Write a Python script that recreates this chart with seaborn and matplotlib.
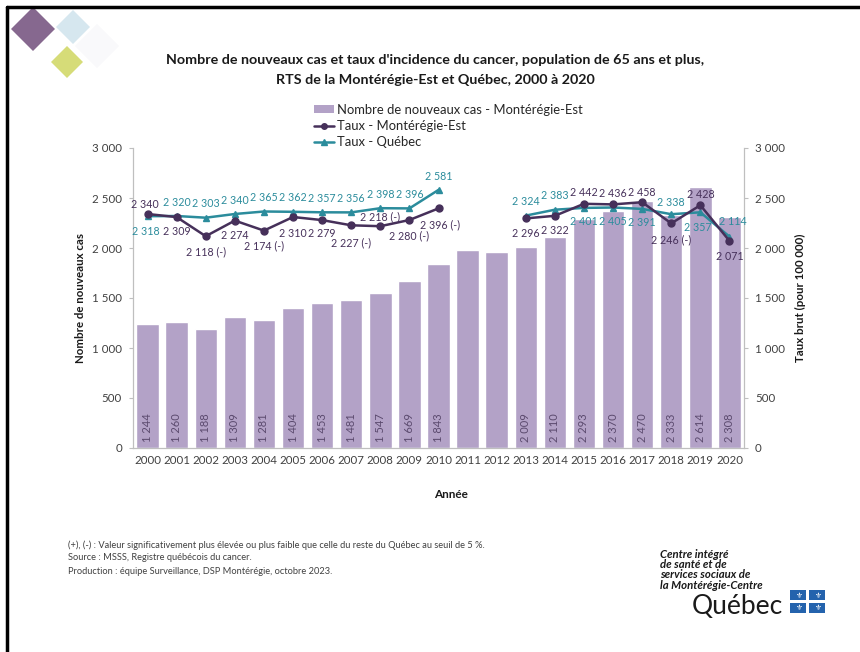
import numpy as np
import pandas as pd
import matplotlib.pyplot as plt
import seaborn as sns
from matplotlib.patches import Patch, Polygon, Rectangle
from matplotlib.lines import Line2D

# données
years = [str(y) for y in range(2000, 2021)]
cases = [1244, 1260, 1188, 1309, 1281, 1404, 1453, 1481, 1547, 1669, 1843,
         1985, 1960, 2009, 2110, 2293, 2370, 2470, 2333, 2614, 2308]
case_labels = ['1 244', '1 260', '1 188', '1 309', '1 281', '1 404', '1 453', '1 481',
               '1 547', '1 669', '1 843', '', '', '2 009', '2 110', '2 293', '2 370',
               '2 470', '2 333', '2 614', '2 308']
rate_me = [2340, 2309, 2118, 2274, 2174, 2310, 2279, 2227, 2218, 2280, 2396,
           np.nan, np.nan, 2296, 2322, 2442, 2436, 2458, 2246, 2428, 2071]
sig_me = ['', '', ' (-)', '', ' (-)', '', '', ' (-)', ' (-)', ' (-)', ' (-)',
          '', '', '', '', '', '', '', ' (-)', '', '']
rate_qc = [2318, 2320, 2303, 2340, 2365, 2362, 2357, 2356, 2398, 2396, 2581,
           np.nan, np.nan, 2324, 2383, 2401, 2405, 2391, 2338, 2357, 2114]

# décalage des étiquettes (pixels)
dy_me = [10, -14, -16, -15, -15, -16, -13, -17, 9, -16, -16, 0, 0,
         -15, -15, 11, 11, 10, -16, 11, -16]
dx_me = [-3, 0, 0, 0, 0, 0, 0, 0, 0, 0, 2, 0, 0, 0, 0, 0, 0, 0, 0, 0, 0]
dy_qc = [-15, 14, 14, 14, 14, 14, 14, 14, 14, 14, 13, 0, 0,
         14, 14, -14, -14, -14, 12, -15, 15]
dx_qc = [-2, 0, 0, 0, 0, 0, 0, 0, 0, 0, 0, 0, 0, 0, 0, 0, 0, 0, 0, -3, 3]

BAR = '#b3a2c7'
DARK = '#46305a'
TEAL = '#2b8c9c'
GREY = '#404040'
SPINE = '#bfbfbf'

W, H = 860, 652

sns.set_style('white')
plt.rcParams['font.family'] = ['Lato', 'DejaVu Sans']

fig = plt.figure(figsize=(W / 100, H / 100), dpi=100)
ax = fig.add_axes([133 / W, 1 - 448 / H, (744 - 133) / W, 300 / H])

df = pd.DataFrame({'annee': years, 'cas': cases})
sns.barplot(data=df, x='annee', y='cas', color=BAR, saturation=1, width=0.77, ax=ax)
ax.set_ylim(0, 3000)
ax.set_xlim(-0.5, len(years) - 0.5)
ax.set_xlabel('')
ax.set_ylabel('')

x = np.arange(len(years))
for i, lab in enumerate(case_labels):
    if lab:
        ax.annotate(lab, (x[i], 0), xytext=(0, 6), textcoords='offset pixels',
                    rotation=90, ha='center', va='bottom', fontsize=8, color='#5b4a6e')

ax2 = ax.twinx()
ax2.set_ylim(0, 3000)
ax2.plot(x, rate_qc, color=TEAL, lw=1.8, marker='^', ms=5, zorder=3)
ax2.plot(x, rate_me, color=DARK, lw=1.8, marker='o', ms=5, zorder=4)

for i in range(len(years)):
    if not np.isnan(rate_me[i]):
        txt = f"{int(rate_me[i]):,}".replace(',', ' ') + sig_me[i]
        ax2.annotate(txt, (x[i], rate_me[i]), xytext=(dx_me[i], dy_me[i]),
                     textcoords='offset pixels', ha='center', va='center',
                     fontsize=7.7, color=DARK)
    if not np.isnan(rate_qc[i]):
        txt = f"{int(rate_qc[i]):,}".replace(',', ' ')
        ax2.annotate(txt, (x[i], rate_qc[i]), xytext=(dx_qc[i], dy_qc[i]),
                     textcoords='offset pixels', ha='center', va='center',
                     fontsize=7.7, color=TEAL)

yt = np.arange(0, 3001, 500)
ylab = [f"{v:,}".replace(',', ' ') for v in yt]
for a in (ax, ax2):
    a.set_yticks(yt)
    a.set_yticklabels(ylab)
    a.spines['top'].set_visible(False)
    for s in ('left', 'right', 'bottom'):
        a.spines[s].set_color(SPINE)
        a.spines[s].set_linewidth(0.8)
    a.tick_params(axis='y', length=3, color=SPINE, labelsize=8.3, labelcolor=GREY, pad=5)
ax.tick_params(axis='x', which='major', length=0, labelsize=8.3, labelcolor=GREY, pad=5)
ax.set_xticks(np.arange(-0.5, len(years), 1), minor=True)
ax.tick_params(axis='x', which='minor', length=4, color=SPINE)

# textes
fig.text(435 / W, 1 - 60 / H,
         "Nombre de nouveaux cas et taux d'incidence du cancer, population de 65 ans et plus,",
         ha='center', va='center', fontsize=10.3, fontweight='bold', color='#1a1a1a')
fig.text(435 / W, 1 - 80 / H, "RTS de la Montérégie-Est et Québec, 2000 à 2020",
         ha='center', va='center', fontsize=10.3, fontweight='bold', color='#1a1a1a')
fig.text(80 / W, 1 - 298 / H, 'Nombre de nouveaux cas', rotation=90,
         ha='center', va='center', fontsize=8.3, fontweight='bold', color='#1a1a1a')
fig.text(800 / W, 1 - 298 / H, 'Taux brut (pour 100 000)', rotation=90,
         ha='center', va='center', fontsize=8.3, fontweight='bold', color='#1a1a1a')
fig.text(451 / W, 1 - 494 / H, 'Année', ha='center', va='center',
         fontsize=8.5, fontweight='bold', color='#1a1a1a')

handles = [Patch(facecolor=BAR, edgecolor='none'),
           Line2D([], [], color=DARK, lw=1.8, marker='o', ms=4),
           Line2D([], [], color=TEAL, lw=1.8, marker='^', ms=4)]
labels = ['Nombre de nouveaux cas - Montérégie-Est', 'Taux - Montérégie-Est', 'Taux - Québec']
fig.legend(handles, labels, loc='upper left', bbox_to_anchor=(314 / W, 1 - 104 / H),
           frameon=False, fontsize=9.4, handlelength=1.5, handleheight=0.55,
           handletextpad=0.25, labelspacing=0.3, borderaxespad=0, borderpad=0,
           labelcolor='#262626')

notes = ["(+), (-) : Valeur significativement plus élevée ou plus faible que celle du reste du Québec au seuil de 5 %.",
         "Source : MSSS, Registre québécois du cancer.",
         "Production : équipe Surveillance, DSP Montérégie, octobre 2023."]
for k, n in enumerate(notes):
    fig.text(68 / W, 1 - (545 + 13 * k) / H, n, ha='left', va='center',
             fontsize=6.7, color=GREY)


def px(xp, yp):
    return (xp / W, 1 - yp / H)


def diamond(cx, cy, r, col):
    pts = [px(cx - r, cy), px(cx, cy - r), px(cx + r, cy), px(cx, cy + r)]
    fig.add_artist(Polygon(pts, closed=True, facecolor=col, edgecolor='none',
                           transform=fig.transFigure))


# logo en haut à gauche
diamond(97, 46, 22, '#f9f9fb')
diamond(73, 27, 17, '#d6e7ef')
diamond(33, 29, 22, '#86688f')
diamond(67, 62, 16, '#d6dc78')

# cadre
fig.add_artist(Line2D([7 / W, 7 / W], [0, 1 - 7 / H], color='black', lw=2.5,
                      transform=fig.transFigure))
fig.add_artist(Line2D([7 / W, 1], [1 - 7 / H, 1 - 7 / H], color='black', lw=2.5,
                      transform=fig.transFigure))

# signature CISSS
sig_lines = ['Centre intégré', 'de santé et de', 'services sociaux de', 'la Montérégie-Centre']
for k, s in enumerate(sig_lines):
    fig.text(660 / W, 1 - (554 + 10.5 * k) / H, s, ha='left', va='center', fontsize=8.2,
             fontweight='bold', fontstyle='italic', color='#1a1a1a')
fig.text(692 / W, 1 - 607 / H, 'Québec', ha='left', va='center', fontsize=19,
         color='#1a1a1a')
for r in range(2):
    for c in range(2):
        x0 = 790 + c * 19
        y0 = 590 + r * 13
        fig.add_artist(Rectangle(px(x0, y0 + 10), 16 / W, 10 / H, facecolor='#2463ad',
                                 edgecolor='none', transform=fig.transFigure))
        fig.text((x0 + 8) / W, 1 - (y0 + 5) / H, '⚜', ha='center', va='center',
                 fontsize=5.5, color='white', family='DejaVu Sans')

fig.savefig('out.png', dpi=100)
